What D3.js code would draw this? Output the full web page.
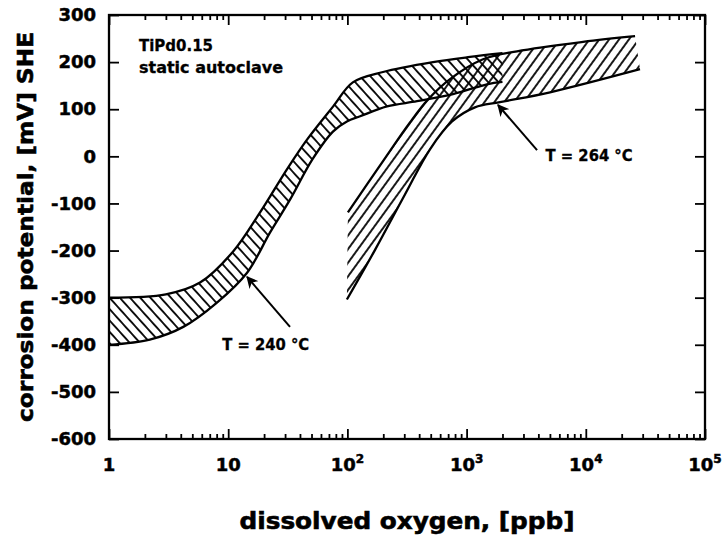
<!DOCTYPE html>
<html><head><meta charset="utf-8">
<script src="https://cdn.jsdelivr.net/npm/d3@7"></script>
<style>body{margin:0;background:#fff}</style>
</head><body><svg id="c" width="727" height="536"></svg>
<script>
// ---- data ----
const xMajorTicks = [1, 10, 100, 1000, 10000, 100000];
const xTickBase = ["1", "10", "10", "10", "10", "10"];
const xTickExp = ["", "", "2", "3", "4", "5"];
const yTicks = [300, 200, 100, 0, -100, -200, -300, -400, -500, -600];

// T = 240 °C band (dissolved O2 ppb, mV SHE)
const band240Upper = [[1,-300],[3,-293],[5.8,-268],[11,-202],[18.5,-119],[31,-28],[46,36],[76,106],[111,157],[199,179],[523,200],[1069,211],[2000,219]];
const band240Lower = [[1,-400],[2.2,-389],[4.2,-362],[8,-311],[14.4,-247],[22.4,-162],[33,-92],[51,-6],[76,53],[99,74],[128,85],[215,106],[384,117],[769,132],[1483,153],[2000,158]];
// T = 264 °C band
const band264Upper = [[101,-119],[199,-10],[335,72],[480,122],[726,164],[1374,206],[2649,223],[9480,243],[25900,255]];
const band264Lower = [[99,-304],[171,-198],[304,-81],[493,15],[755,74],[1175,104],[1905,115],[5012,136],[28500,185]];

const labels240 = {text: "T = 240 °C", at: [8.9, -411], tail: [33, -362], tip: [14.4, -256]};
const labels264 = {text: "T = 264 °C", at: [4600, -10], tail: [3900, 13], tip: [1834, 109]};
const noteLines = ["TiPd0.15", "static autoclave"];
const xTitle = "dissolved oxygen, [ppb]";
const yTitle = "corrosion potential, [mV] SHE";

// ---- layout ----
const M = {left: 109, right: 705, top: 15, bottom: 439};
const FONT = "'DejaVu Sans', sans-serif";
const svg = d3.select("#c");
const x = d3.scaleLog().domain([1, 1e5]).range([M.left, M.right]);
const y = d3.scaleLinear().domain([-600, 300]).range([M.bottom, M.top]);

const defs = svg.append("defs");
defs.append("clipPath").attr("id", "plot").append("rect")
  .attr("x", M.left).attr("y", M.top).attr("width", M.right - M.left).attr("height", M.bottom - M.top);
function hatch(id, angle, gap) {
  const p = defs.append("pattern").attr("id", id).attr("patternUnits", "userSpaceOnUse")
    .attr("width", gap).attr("height", gap).attr("patternTransform", `rotate(${angle})`);
  p.append("line").attr("x1", gap / 2).attr("y1", -1).attr("x2", gap / 2).attr("y2", gap + 1)
    .attr("stroke", "#000").attr("stroke-width", 1.8);
}
hatch("h240", -42, 7.6);
hatch("h264", 36, 8);

const line = d3.line().x(d => x(d[0])).y(d => y(d[1])).curve(d3.curveCatmullRom.alpha(0.5));
function bandPath(up, lo) {
  const a = line(up);
  const b = line(lo.slice().reverse());
  return a + "L" + b.slice(1) + "Z";
}
const g = svg.append("g").attr("clip-path", "url(#plot)");
[[band240Upper, band240Lower, "h240"], [band264Upper, band264Lower, "h264"]].forEach(([u, l, id]) => {
  g.append("path").attr("d", bandPath(u, l)).attr("fill", `url(#${id})`);
});
[band240Upper, band240Lower, band264Upper, band264Lower].forEach(s => {
  g.append("path").attr("d", line(s)).attr("fill", "none").attr("stroke", "#000").attr("stroke-width", 2.3);
});

// ---- axes ----
const xAll = [];
xMajorTicks.forEach((d, i) => { if (i < xMajorTicks.length - 1) for (let k = 2; k <= 9; k++) xAll.push(d * k); });
const allX = xMajorTicks.concat(xAll).sort((a, b) => a - b);
const isMajor = d => xMajorTicks.includes(d);

function styleAxis(sel) {
  sel.select(".domain").remove();
  sel.selectAll(".tick line").attr("stroke", "#000").attr("stroke-width", 1.8);
}
const gb = svg.append("g").attr("transform", `translate(0,${M.bottom})`)
  .call(d3.axisBottom(x).tickValues(allX).tickSizeInner(-5).tickSizeOuter(0).tickFormat(""));
styleAxis(gb);
gb.selectAll(".tick line").attr("y2", d => isMajor(d) ? -10 : -5);
const gt = svg.append("g").attr("transform", `translate(0,${M.top})`)
  .call(d3.axisTop(x).tickValues(allX).tickSizeInner(-5).tickSizeOuter(0).tickFormat(""));
styleAxis(gt);
gt.selectAll(".tick line").attr("y2", d => isMajor(d) ? 10 : 5);

const gl = svg.append("g").attr("transform", `translate(${M.left},0)`)
  .call(d3.axisLeft(y).tickValues(yTicks).tickSizeInner(-10).tickSizeOuter(0).tickPadding(13).tickFormat(d => String(d)));
styleAxis(gl);
gl.selectAll(".tick text").attr("font-family", FONT).attr("font-weight", "bold").attr("font-size", 18)
  .attr("fill", "#000").attr("stroke", "#000").attr("stroke-width", 0.5);
const gr = svg.append("g").attr("transform", `translate(${M.right},0)`)
  .call(d3.axisRight(y).tickValues(yTicks).tickSizeInner(-10).tickSizeOuter(0).tickFormat(""));
styleAxis(gr);

svg.append("rect").attr("x", M.left).attr("y", M.top).attr("width", M.right - M.left).attr("height", M.bottom - M.top)
  .attr("fill", "none").attr("stroke", "#000").attr("stroke-width", 2.3);

// x tick labels with superscripts
xMajorTicks.forEach((d, i) => {
  const t = svg.append("text").attr("x", x(d)).attr("y", 471).attr("text-anchor", "middle")
    .attr("font-family", FONT).attr("font-weight", "bold").attr("font-size", 18).attr("fill", "#000")
    .attr("stroke", "#000").attr("stroke-width", 0.5);
  t.append("tspan").text(xTickBase[i]);
  if (xTickExp[i]) t.append("tspan").attr("dy", -8).attr("font-size", 12).text(xTickExp[i]);
});

// titles
svg.append("text").attr("x", (M.left + M.right) / 2).attr("y", 529).attr("text-anchor", "middle")
  .attr("font-family", FONT).attr("font-weight", "bold").attr("font-size", 23).attr("fill", "#000")
  .attr("stroke", "#000").attr("stroke-width", 0.6)
  .attr("textLength", 335).attr("lengthAdjust", "spacingAndGlyphs").text(xTitle);
svg.append("text").attr("transform", `translate(33,${(M.top + M.bottom) / 2}) rotate(-90)`).attr("text-anchor", "middle")
  .attr("font-family", FONT).attr("font-weight", "bold").attr("font-size", 22).attr("fill", "#000")
  .attr("stroke", "#000").attr("stroke-width", 0.6)
  .attr("textLength", 390).attr("lengthAdjust", "spacingAndGlyphs").text(yTitle);

// notes
const noteLen = [74, 144];
noteLines.forEach((s, i) => {
  svg.append("text").attr("x", 139).attr("y", 51 + i * 22).attr("font-family", FONT).attr("font-weight", "bold")
    .attr("font-size", 15.5).attr("fill", "#000").attr("stroke", "#000").attr("stroke-width", 0.3)
    .attr("textLength", noteLen[i]).attr("lengthAdjust", "spacingAndGlyphs").text(s);
});

// annotations with arrows
defs.append("marker").attr("id", "arr").attr("viewBox", "0 0 10 10").attr("refX", 9).attr("refY", 5)
  .attr("markerWidth", 6).attr("markerHeight", 6).attr("orient", "auto")
  .append("path").attr("d", "M0,0L10,5L0,10L3,5Z").attr("fill", "#000");
[labels240, labels264].forEach(L => {
  svg.append("line").attr("x1", x(L.tail[0])).attr("y1", y(L.tail[1])).attr("x2", x(L.tip[0])).attr("y2", y(L.tip[1]))
    .attr("stroke", "#000").attr("stroke-width", 2).attr("marker-end", "url(#arr)");
  svg.append("text").attr("x", x(L.at[0])).attr("y", y(L.at[1])).attr("font-family", FONT).attr("font-weight", "bold")
    .attr("font-size", 15.5).attr("fill", "#000").attr("stroke", "#000").attr("stroke-width", 0.3)
    .attr("textLength", 87).attr("lengthAdjust", "spacingAndGlyphs").text(L.text);
});
</script></body></html>
